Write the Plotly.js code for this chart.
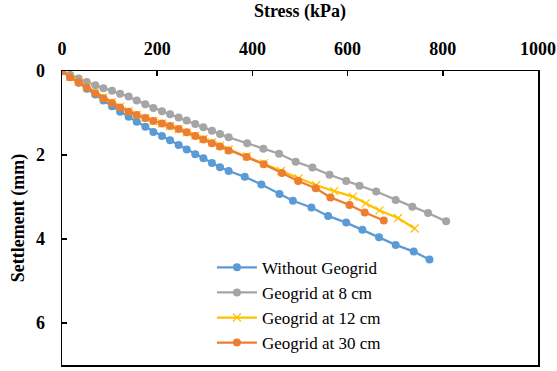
<!DOCTYPE html>
<html>
<head>
<meta charset="utf-8">
<script src="https://cdn.plot.ly/plotly-3.0.1.min.js"></script>
<style>
html,body{margin:0;padding:0;background:#fff;}
#chart{width:557px;height:371px;}
</style>
</head>
<body>
<div id="chart"></div>
<script>
// Stress (kPa) and settlement (mm)
const stressNone = [0,17,35,52,70,87,105,122,140,157,175,192,210,227,245,262,280,297,315,332,350,384,419,457,485,524,559,597,631,666,701,739,772];
const settleNone = [0,0.14,0.28,0.42,0.56,0.70,0.84,0.97,1.09,1.21,1.33,1.45,1.55,1.65,1.76,1.87,1.98,2.08,2.19,2.29,2.38,2.52,2.70,2.93,3.09,3.25,3.45,3.61,3.78,3.96,4.14,4.30,4.49];

const stress8 = [0,17,35,52,70,87,105,122,140,157,175,192,210,227,245,262,280,297,315,332,350,389,423,456,491,526,562,597,625,660,701,736,769,807];
const settle8 = [0,0.09,0.18,0.26,0.34,0.41,0.47,0.54,0.61,0.70,0.79,0.88,0.96,1.03,1.11,1.18,1.26,1.34,1.42,1.50,1.58,1.72,1.85,1.97,2.16,2.30,2.47,2.62,2.73,2.87,3.07,3.23,3.38,3.58];

const stress12 = [0,17,35,52,70,87,105,122,140,157,175,192,210,227,245,262,280,297,315,332,350,388,424,460,497,534,572,611,638,667,706,741];
const settle12 = [0,0.14,0.26,0.38,0.51,0.63,0.74,0.85,0.95,1.04,1.12,1.19,1.25,1.31,1.38,1.46,1.54,1.62,1.70,1.78,1.87,2.03,2.20,2.38,2.56,2.72,2.86,2.99,3.15,3.32,3.50,3.75];

const stress30 = [0,17,35,52,70,87,105,122,140,157,175,192,210,227,245,262,280,297,315,332,350,388,424,462,496,533,564,604,636,676];
const settle30 = [0,0.15,0.27,0.39,0.53,0.65,0.76,0.87,0.97,1.05,1.12,1.19,1.25,1.31,1.38,1.46,1.55,1.63,1.72,1.80,1.89,2.05,2.22,2.43,2.62,2.79,3.01,3.19,3.37,3.56];

const seriesNames = ['Without Geogrid','Geogrid at 8 cm','Geogrid at 12 cm','Geogrid at 30 cm'];
const colors = ['#5B9BD5','#A5A5A5','#FFC000','#ED7D31'];

const traces = [
  {x: stressNone, y: settleNone, name: seriesNames[0], mode: 'lines+markers',
   line: {color: colors[0], width: 2.25}, marker: {symbol: 'circle', size: 8, color: colors[0]}},
  {x: stress8, y: settle8, name: seriesNames[1], mode: 'lines+markers',
   line: {color: colors[1], width: 2.25}, marker: {symbol: 'circle', size: 8, color: colors[1]}},
  {x: stress12, y: settle12, name: seriesNames[2], mode: 'lines+markers',
   line: {color: colors[2], width: 2.25}, marker: {symbol: 'x-thin', size: 8, color: colors[2], line: {color: colors[2], width: 1.2}}},
  {x: stress30, y: settle30, name: seriesNames[3], mode: 'lines+markers',
   line: {color: colors[3], width: 2.25}, marker: {symbol: 'circle', size: 8, color: colors[3]}}
];

const layout = {
  width: 557, height: 371,
  font: {family: 'Liberation Serif', size: 18, color: '#000'},
  margin: {l: 62, r: 19, t: 71, b: 6},
  paper_bgcolor: '#fff', plot_bgcolor: '#fff',
  showlegend: true,
  legend: {x: 0.315, y: 0.392, xanchor: 'left', yanchor: 'top',
    font: {family: 'Liberation Serif', size: 17, color: '#000'}, bgcolor: 'rgba(255,255,255,0)',
    tracegroupgap: 0, itemwidth: 40},
  xaxis: {
    side: 'top', range: [0, 1000], dtick: 200, tick0: 0,
    showgrid: false, zeroline: false,
    showline: true, linecolor: '#000', linewidth: 1.5, mirror: true,
    ticks: 'inside', ticklen: 5, tickcolor: '#000', tickwidth: 1.5,
    ticklabelstandoff: 7,
    tickfont: {family: 'Liberation Serif', size: 18, color: '#000', weight: 'bold'},
    title: {text: '<b>Stress (kPa)</b>', font: {family: 'Liberation Serif', size: 18, color: '#000'}, standoff: 17},
    automargin: false
  },
  yaxis: {
    range: [7, 0], dtick: 2, tick0: 0,
    showgrid: false, zeroline: false,
    showline: true, linecolor: '#000', linewidth: 1.5, mirror: true,
    ticks: 'inside', ticklen: 5, tickcolor: '#000', tickwidth: 1.5,
    ticklabelstandoff: 12,
    tickfont: {family: 'Liberation Serif', size: 18, color: '#000', weight: 'bold'},
    title: {text: '<b>Settlement (mm)</b>', font: {family: 'Liberation Serif', size: 18, color: '#000'}, standoff: 6},
    automargin: false
  }
};

Plotly.newPlot('chart', traces, layout, {displayModeBar: false, staticPlot: true});
</script>
</body>
</html>
